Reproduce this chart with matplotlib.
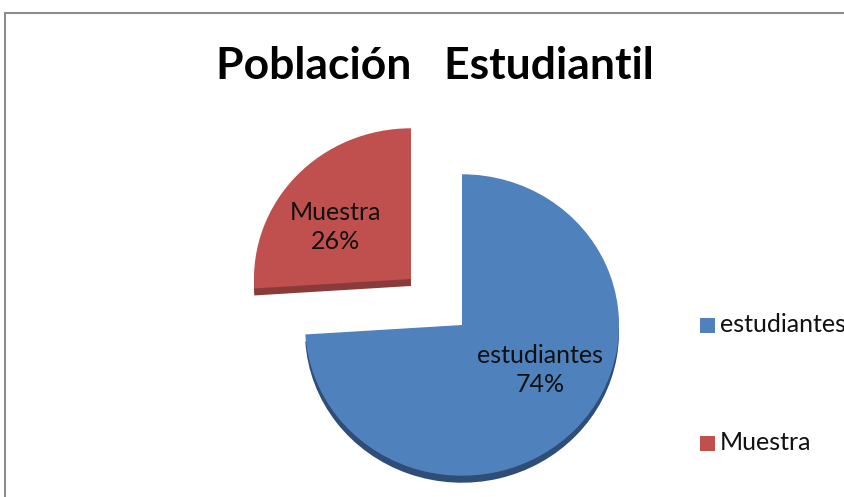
import matplotlib.pyplot as plt
from matplotlib.patches import Rectangle

labels = ['estudiantes', 'Muestra']
values = [74, 26]
colors = ['#4F81BD', '#C0504D']
depth_colors = ['#2F4E77', '#8A3A38']
explode = [0, 70]   # pie explode is in data units here

plt.rcParams['font.family'] = ['Lato', 'DejaVu Sans']

fig = plt.figure(figsize=(8.45, 4.97), dpi=100)
ax = fig.add_axes([0, 0, 1, 1])

sy = 0.96  # slight vertical squash for the tilted look
cx, cy = 462, (497 - 325) / sy
r = 157

# depth layer (3d side)
ax.pie(values, explode=explode, colors=depth_colors, startangle=90,
       counterclock=False, center=(cx, cy - 7 / sy), radius=r,
       wedgeprops=dict(linewidth=0))
wedges, texts = ax.pie(values, explode=explode, colors=colors, startangle=90,
                       counterclock=False, center=(cx, cy), radius=r,
                       wedgeprops=dict(linewidth=0))

ax.set_aspect('auto')
ax.set_xlim(0, 845)
ax.set_ylim(0, 497 / sy)
ax.axis('off')

# slice labels
pct = [v / sum(values) * 100 for v in values]
ax.text(540, (497 - 370) / sy, f'{labels[0]}\n{pct[0]:.0f}%', ha='center', va='center',
        fontsize=18, linespacing=1.35, color='#111111')
ax.text(336, (497 - 227) / sy, f'{labels[1]}\n{pct[1]:.0f}%', ha='center', va='center',
        fontsize=18, linespacing=1.35, color='#111111')

fig.text(435 / 845, 1 - 66 / 497, 'Población   Estudiantil', ha='center', va='center',
         fontsize=32, fontweight='bold')

# legend
for i, (lab, col) in enumerate(zip(labels, colors)):
    ypix = [325, 443][i]
    fig.patches.append(Rectangle((700 / 845, 1 - (ypix + 8) / 497), 15 / 845, 15 / 497,
                                 transform=fig.transFigure, facecolor=col, edgecolor='none'))
    fig.text(720 / 845, 1 - ypix / 497, lab, ha='left', va='center', fontsize=18,
             color='#111111')

# chart frame
fig.patches.append(Rectangle((5 / 845, -0.1), 1.1, 1 - 13 / 497 + 0.1, transform=fig.transFigure,
                             fill=False, edgecolor='#8C8C8C', linewidth=1.5))

fig.savefig('out.png', dpi=100)
